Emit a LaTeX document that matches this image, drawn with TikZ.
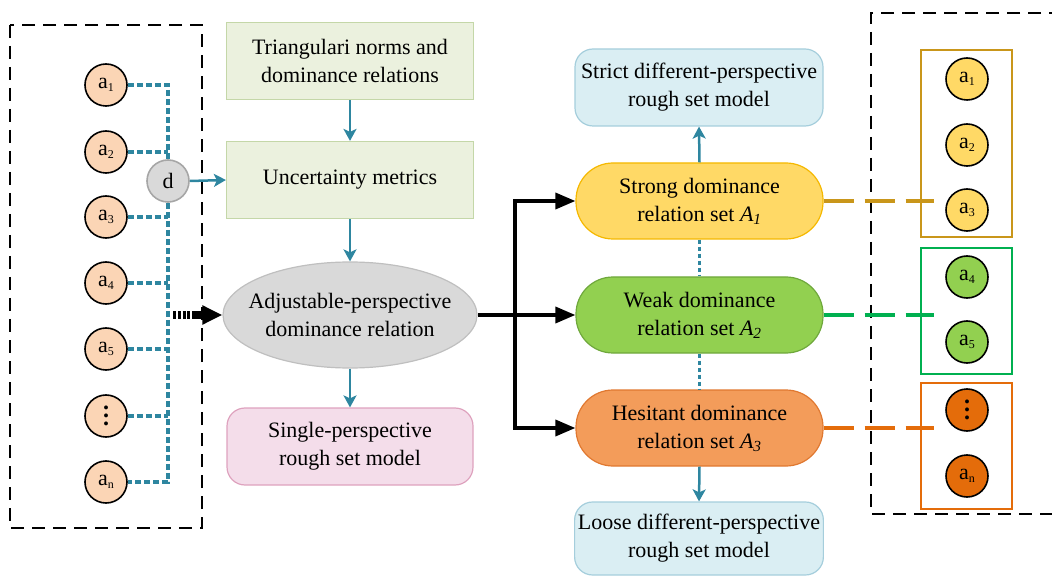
\documentclass[tikz,border=0pt]{standalone}
\usepackage{fontspec}
\setmainfont{Liberation Serif}
\usetikzlibrary{arrows.meta,shapes.geometric}
\definecolor{tealc}{HTML}{2E86A0}
\definecolor{peach}{HTML}{FBD5B5}
\definecolor{dfill}{HTML}{D9D9D9}
\definecolor{dbord}{HTML}{A6A6A6}
\definecolor{gfill}{HTML}{EBF1DE}
\definecolor{gbord}{HTML}{C4D7A8}
\definecolor{efill}{HTML}{D9D9D9}
\definecolor{ebord}{HTML}{BFBFBF}
\definecolor{pfill}{HTML}{F4DDEA}
\definecolor{pbord}{HTML}{DEA2BE}
\definecolor{bfill}{HTML}{DAEEF3}
\definecolor{bbord}{HTML}{A5CEDC}
\definecolor{yfill}{HTML}{FFD966}
\definecolor{ybord}{HTML}{F5B800}
\definecolor{wfill}{HTML}{92D050}
\definecolor{wbord}{HTML}{6FA83C}
\definecolor{hfill}{HTML}{F39C5A}
\definecolor{hbord}{HTML}{E07830}
\definecolor{goldc}{HTML}{C9961A}
\definecolor{greenc}{HTML}{00B050}
\definecolor{orangec}{HTML}{E46C0A}
\definecolor{ofill}{HTML}{E46C0A}
\newcommand{\al}[1]{a\raisebox{-3pt}{\fontsize{12}{12}\selectfont #1}}
\newcommand{\vdd}{\vbox{\offinterlineskip\fontsize{24}{24}\bfseries\selectfont
  \hbox{.}\kern4pt\hbox{.}\kern4pt\hbox{.}}}
\begin{document}
\begin{tikzpicture}[x=1pt,y=-1pt,
  txt/.style={font=\fontsize{22}{28}\selectfont, align=center},
  gbox/.style={txt, draw=gbord, fill=gfill, line width=1.2pt, minimum width=247pt, minimum height=77pt},
  rbox/.style={txt, rounded corners=18pt, line width=1.2pt, minimum width=248pt, minimum height=77pt},
  stad/.style={txt, rounded corners=37pt, line width=1.2pt, minimum width=247pt, minimum height=76pt},
  ball/.style={circle, draw=black, line width=1.6pt, minimum size=42pt, inner sep=0pt, font=\fontsize{22}{22}\selectfont},
  tarrow/.style={draw=tealc, line width=2.5pt, -{Stealth[length=12pt,width=13pt,inset=3pt]}},
  bline/.style={draw=black, line width=3.5pt},
  barrow/.style={bline, -{Triangle[length=20pt,width=16pt]}},
  bdash/.style={draw=tealc, line width=3.2pt, dash pattern=on 6pt off 3pt},
  bdot/.style={draw=tealc, line width=3.2pt, dash pattern=on 4pt off 3pt},
  boxdash/.style={draw=black, line width=2.4pt, dash pattern=on 13pt off 8pt},
  cdash/.style={line width=4pt, dash pattern=on 30pt off 11pt}
]
\useasboundingbox (0,0) rectangle (1052,577);

% left dashed frame
\draw[boxdash] (10,25) rectangle (202,528);
% right dashed frame
\draw[boxdash] (1062,13) -- (871,13) -- (871,514) -- (1062,514);

% left circles
\node[ball, fill=peach] (l1) at (106,85) {\al{1}};
\node[ball, fill=peach] (l2) at (106,152) {\al{2}};
\node[ball, fill=peach] (l3) at (106,217) {\al{3}};
\node[ball, fill=peach] (l4) at (106,283) {\al{4}};
\node[ball, fill=peach] (l5) at (106,349) {\al{5}};
\node[ball, fill=peach] (l6) at (106,416) {\vdd};
\node[ball, fill=peach] (l7) at (106,482) {\al{n}};
\node[circle, draw=dbord, fill=dfill, line width=1.6pt, minimum size=42pt, inner sep=0pt, txt] (d) at (168,181) {d};

\draw[bdash] (l1.east) -- (l1.east -| d.center) -- (d.north);
\draw[bdash] (l2.east) -- (l2.east -| d.center);
\draw[bdash] (d.south) -- (l7.east -| d.center) -- (l7.east);
\foreach \n in {l3,l4,l5,l6} \draw[bdash] (\n.east) -- (\n.east -| d.center);

% middle column
\node[gbox] (g1) at (350,61) {Triangulari norms and\\dominance relations};
\node[gbox] (g2) at (350,180) {Uncertainty metrics};
\node[ellipse, draw=ebord, fill=efill, line width=1.2pt, minimum width=254pt, minimum height=106pt, inner sep=0pt] (ell) at (350,315) {};
\node[txt] (elltxt) at (ell.center) {Adjustable-perspective\\dominance relation};
\node[rbox, draw=pbord, fill=pfill, minimum width=246pt] (pink) at (350,446.5) {Single-perspective\\rough set model};

\draw[tarrow] (g1.south) -- (g2.north);
\draw[tarrow] (g2.south) -- (ell.north);
\draw[tarrow] (ell.south) -- (pink.north);
\draw[tarrow] (d.east) -- (g2.west);

\coordinate (fa) at (173,315);
\draw[line width=8pt, dash pattern=on 3pt off 1.8pt on 3pt off 1.8pt on 3pt off 1.8pt on 3pt off 1.8pt on 40pt off 1pt, -{Triangle[length=20pt,width=18pt]}] (fa) -- (ell.west);

% right-middle column
\node[rbox, draw=bbord, fill=bfill] (strict) at (699,87.5) {Strict different-perspective\\rough set model};
\node[stad, draw=ybord, fill=yfill] (strong) at (699.5,201) {Strong dominance\\relation set {\itshape A}\textsubscript{\itshape 1}};
\node[stad, draw=wbord, fill=wfill] (weak) at (699.5,315) {Weak dominance\\relation set {\itshape A}\textsubscript{\itshape 2}};
\node[stad, draw=hbord, fill=hfill] (hes) at (699.5,428) {Hesitant dominance\\relation set {\itshape A}\textsubscript{\itshape 3}};
\node[rbox, draw=bbord, fill=bfill, minimum height=73pt] (loose) at (699,538.5) {Loose different-perspective\\rough set model};

\draw[tarrow] (strong.north) -- (strict.south);
\draw[tarrow] (hes.south) -- (loose.north);
\draw[bdot] (strong.south) -- (weak.north);
\draw[bdot] (weak.south) -- (hes.north);

\coordinate (j) at (515,315);
\draw[bline] (ell.east) -- (j);
\draw[barrow] (j) |- (strong.west);
\draw[barrow] (j) -- (weak.west);
\draw[barrow] (j) |- (hes.west);

% right groups
\draw[goldc, line width=2pt] (921,50) rectangle (1012,237);
\draw[greenc, line width=2pt] (921,248) rectangle (1012,374);
\draw[orangec, line width=2pt] (921,383) rectangle (1012,509);

\coordinate (e1) at (934,201);
\coordinate (e2) at (934,315);
\coordinate (e3) at (934,428);
\draw[cdash, goldc] (strong.east) -- (e1);
\draw[cdash, greenc] (weak.east) -- (e2);
\draw[cdash, orangec] (hes.east) -- (e3);

\node[ball, fill=yfill] (r1) at (967,79) {\al{1}};
\node[ball, fill=yfill] (r2) at (967,145) {\al{2}};
\node[ball, fill=yfill] (r3) at (967,210) {\al{3}};
\node[ball, fill=wfill] (r4) at (967,277) {\al{4}};
\node[ball, fill=wfill] (r5) at (967,342) {\al{5}};
\node[ball, fill=ofill] (r6) at (967,410) {\vdd};
\node[ball, fill=ofill] (r7) at (967,476) {\al{n}};
\end{tikzpicture}
\end{document}
